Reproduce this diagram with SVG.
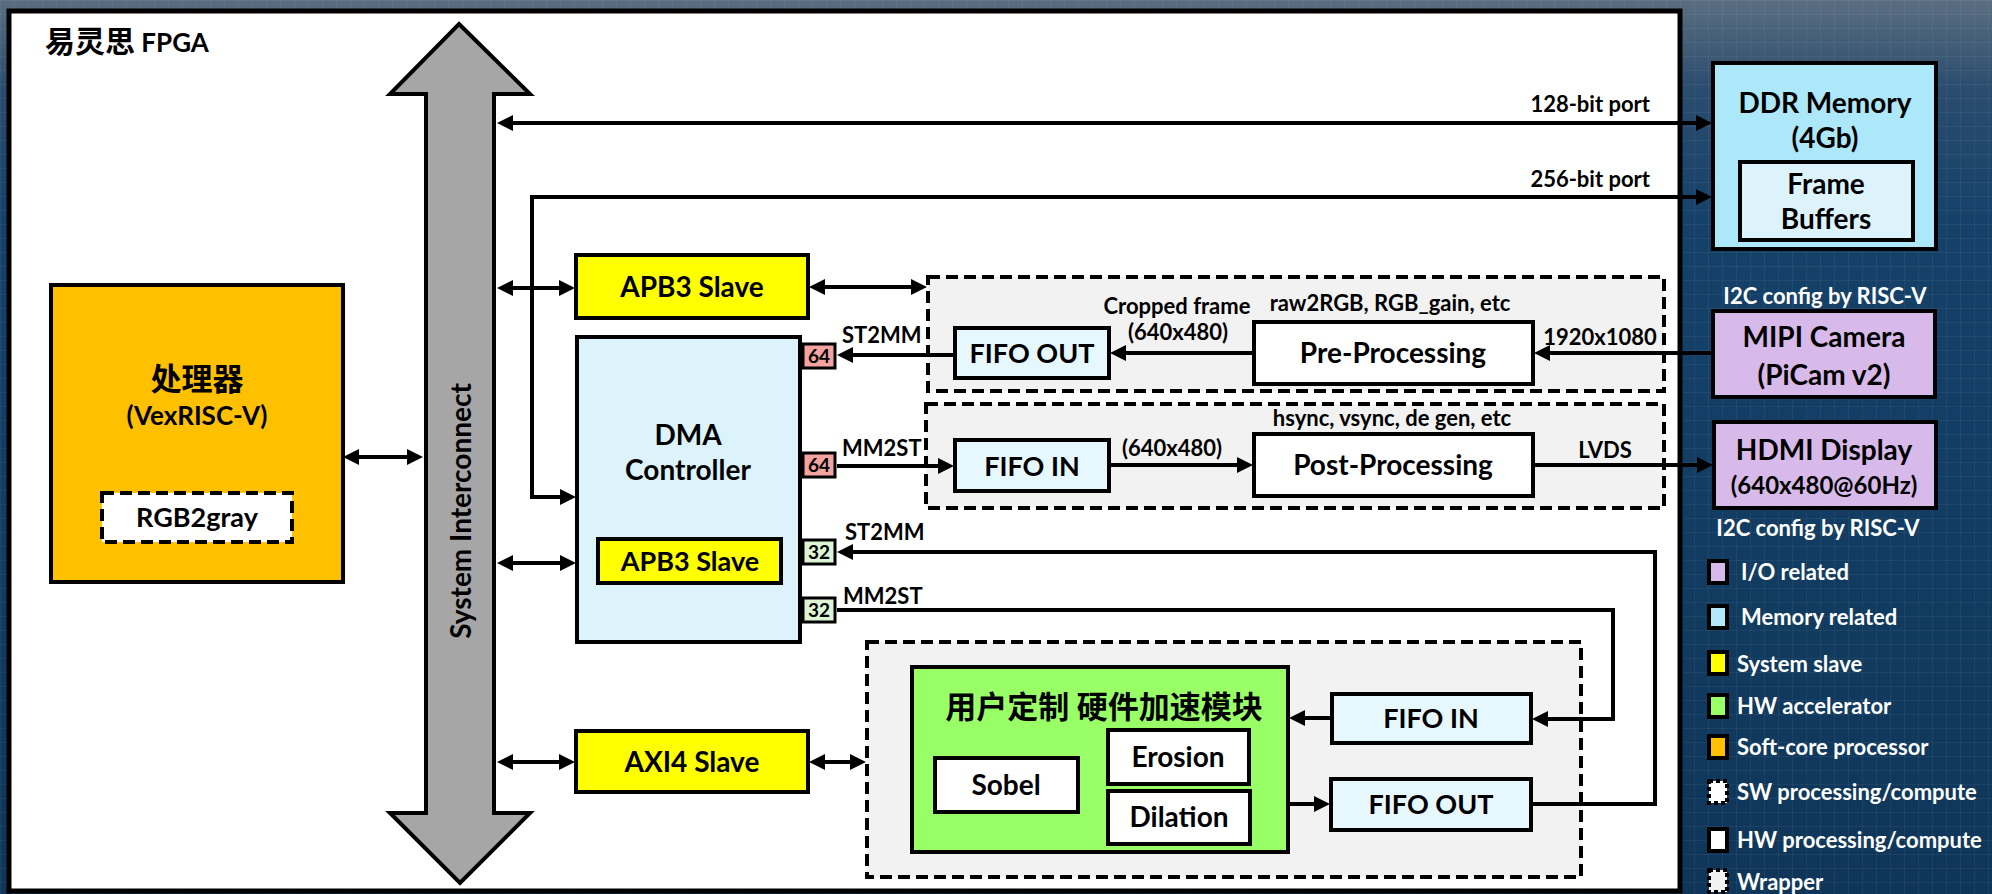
<svg xmlns="http://www.w3.org/2000/svg" width="1992" height="894" viewBox="0 0 1992 894">
<defs>
  <linearGradient id="bg" x1="0" y1="0" x2="0" y2="1">
    <stop offset="0" stop-color="#5a6e80"/>
    <stop offset="0.1" stop-color="#2a4c6e"/>
    <stop offset="0.25" stop-color="#154169"/>
    <stop offset="1" stop-color="#0f3659"/>
  </linearGradient>
  <pattern id="grid" width="14" height="14" patternUnits="userSpaceOnUse">
    <path d="M0,0.5 H14 M0.5,0 V14" stroke="#ffffff" stroke-opacity="0.05" stroke-width="1" fill="none"/>
  </pattern>
  <marker id="ah" markerUnits="userSpaceOnUse" markerWidth="16" markerHeight="16" refX="11" refY="8" orient="auto-start-reverse" viewBox="0 0 16 16">
    <path d="M0,0 L16,8 L0,16 Z" fill="#000"/>
  </marker>
  <style>
    .t { font-family: Lato, "Noto Sans CJK SC", sans-serif; font-weight: 700; fill: #000; }
    .c { text-anchor: middle; }
    .e { text-anchor: end; }
    .w { fill: #ffffff; }
    .s19 { font-size: 19px; }
    .s22 { font-size: 22px; }
    .s24 { font-size: 24px; }
    .s26 { font-size: 26px; }
    .s27 { font-size: 27px; }
    .s28 { font-size: 28px; }
    .s30 { font-size: 30px; }
    .s31 { font-size: 31px; }
    .box { stroke: #000; stroke-width: 4; }
    .dash { stroke: #000; stroke-width: 4; stroke-dasharray: 12 6; }
    .yel { fill: #ffff00; }
    .org { fill: #ffc000; }
    .lb { fill: #ddf3fc; }
    .fifo { fill: #e6f7fd; }
    .ddr { fill: #ade8fa; }
    .pur { fill: #d7b9ea; }
    .grn { fill: #99ff66; }
    .wht { fill: #ffffff; }
    .gry { fill: #f2f2f2; }
    .red { fill: #f4a3a0; stroke: #000; stroke-width: 3; }
    .lg { fill: #ddf5d5; stroke: #000; stroke-width: 3; }
    .ln { fill: none; stroke: #000; stroke-width: 4; }
    .arr { marker-end: url(#ah); }
    .arr2 { marker-start: url(#ah); marker-end: url(#ah); }
    .lgd { stroke: #000; stroke-width: 4; }
  </style>
</defs>

<g id="background">
  <rect x="0" y="0" width="1992" height="894" fill="url(#bg)"/>
  <rect x="0" y="0" width="1992" height="894" fill="url(#grid)"/>
</g>

<g id="fpga">
  <rect x="9" y="11" width="1671" height="880" fill="#ffffff" stroke="#000" stroke-width="5"/>
  <text class="t s26" x="45" y="52"><tspan class="s30">易灵思</tspan> FPGA</text>
</g>

<g id="system-interconnect">
  <path d="M459,24 L530,94 L494,94 L494,813 L530,813 L460,883 L390,813 L426,813 L426,94 L390,94 Z" fill="#a6a6a6" stroke="#000" stroke-width="4" stroke-linejoin="miter"/>
  <text class="t s28 c" transform="translate(461,511) rotate(-90)" x="0" y="10">System Interconnect</text>
</g>

<g id="processor">
  <rect class="box org" x="51" y="285" width="292" height="297"/>
  <text class="t s31 c" x="197" y="390">处理器</text>
  <text class="t s26 c" x="197" y="425">(VexRISC-V)</text>
</g>

<g id="rgb2gray">
  <rect class="dash wht" x="102" y="493" width="190" height="49"/>
  <text class="t s27 c" x="197" y="527">RGB2gray</text>
</g>

<g id="apb3-slave-top">
  <rect class="box yel" x="576" y="255" width="232" height="63"/>
  <text class="t s28 c" x="692" y="297">APB3 Slave</text>
</g>

<g id="dma-controller">
  <rect class="box lb" x="577" y="337" width="223" height="305"/>
  <text class="t s28 c" x="688" y="445">DMA</text>
  <text class="t s28 c" x="688" y="480">Controller</text>
</g>

<g id="apb3-slave-dma">
  <rect class="box yel" x="598" y="539" width="183" height="44"/>
  <text class="t s27 c" x="690" y="571">APB3 Slave</text>
</g>

<g id="port-64-st2mm">
  <rect class="red" x="803" y="344" width="32" height="24"/>
  <text class="t s19 c" x="819" y="363">64</text>
</g>
<g id="port-64-mm2st">
  <rect class="red" x="803" y="453" width="32" height="24"/>
  <text class="t s19 c" x="819" y="472">64</text>
</g>
<g id="port-32-st2mm">
  <rect class="lg" x="803" y="540" width="32" height="24"/>
  <text class="t s19 c" x="819" y="559">32</text>
</g>
<g id="port-32-mm2st">
  <rect class="lg" x="803" y="598" width="32" height="24"/>
  <text class="t s19 c" x="819" y="617">32</text>
</g>

<g id="axi4-slave">
  <rect class="box yel" x="576" y="731" width="232" height="61"/>
  <text class="t s28 c" x="692" y="772">AXI4 Slave</text>
</g>

<g id="wrapper-pre">
  <rect class="dash gry" x="928" y="277" width="736" height="114"/>
</g>
<g id="wrapper-post">
  <rect class="dash gry" x="926" y="404" width="738" height="104"/>
</g>

<g id="fifo-out-top">
  <rect class="box fifo" x="955" y="328" width="154" height="50"/>
  <text class="t s27 c" x="1032" y="363">FIFO OUT</text>
</g>
<g id="pre-processing">
  <rect class="box wht" x="1254" y="322" width="279" height="62"/>
  <text class="t s28 c" x="1393" y="363">Pre-Processing</text>
</g>
<g id="fifo-in-top">
  <rect class="box fifo" x="955" y="440" width="154" height="51"/>
  <text class="t s27 c" x="1032" y="476">FIFO IN</text>
</g>
<g id="post-processing">
  <rect class="box wht" x="1254" y="434" width="279" height="62"/>
  <text class="t s28 c" x="1393" y="475">Post-Processing</text>
</g>

<g id="wrapper-accel">
  <rect class="dash gry" x="867" y="642" width="714" height="235"/>
</g>
<g id="hw-accelerator">
  <rect class="box grn" x="912" y="667" width="376" height="185"/>
  <text class="t s31 c" x="1104" y="718">用户定制 硬件加速模块</text>
</g>
<g id="sobel">
  <rect class="box wht" x="935" y="758" width="143" height="54"/>
  <text class="t s28 c" x="1006" y="795">Sobel</text>
</g>
<g id="erosion">
  <rect class="box wht" x="1108" y="730" width="141" height="54"/>
  <text class="t s28 c" x="1178" y="767">Erosion</text>
</g>
<g id="dilation">
  <rect class="box wht" x="1108" y="791" width="142" height="53"/>
  <text class="t s28 c" x="1179" y="827">Dilation</text>
</g>
<g id="fifo-in-accel">
  <rect class="box fifo" x="1332" y="694" width="199" height="49"/>
  <text class="t s27 c" x="1431" y="728">FIFO IN</text>
</g>
<g id="fifo-out-accel">
  <rect class="box fifo" x="1331" y="779" width="200" height="51"/>
  <text class="t s27 c" x="1431" y="814">FIFO OUT</text>
</g>

<g id="ddr-memory">
  <rect class="box ddr" x="1713" y="63" width="223" height="186"/>
  <text class="t s28 c" x="1825" y="113">DDR Memory</text>
  <text class="t s28 c" x="1825" y="148">(4Gb)</text>
</g>
<g id="frame-buffers">
  <rect class="box lb" x="1740" y="162" width="173" height="78"/>
  <text class="t s28 c" x="1826" y="194">Frame</text>
  <text class="t s28 c" x="1826" y="229">Buffers</text>
</g>
<g id="mipi-camera">
  <text class="t s22 c w" x="1825" y="304">I2C config by RISC-V</text>
  <rect class="box pur" x="1713" y="311" width="222" height="86"/>
  <text class="t s28 c" x="1824" y="347">MIPI Camera</text>
  <text class="t s28 c" x="1824" y="385">(PiCam v2)</text>
</g>
<g id="hdmi-display">
  <rect class="box pur" x="1714" y="422" width="222" height="86"/>
  <text class="t s28 c" x="1824" y="460">HDMI Display</text>
  <text class="t s24 c" x="1824" y="494">(640x480@60Hz)</text>
  <text class="t s22 c w" x="1818" y="536">I2C config by RISC-V</text>
</g>

<g id="legend">
  <rect class="lgd" x="1709" y="561" width="18" height="22" fill="#d7b9ea"/>
  <text class="t s22 w" x="1741" y="580">I/O related</text>
  <rect class="lgd" x="1709" y="606" width="18" height="22" fill="#b3e8fa"/>
  <text class="t s22 w" x="1741" y="625">Memory related</text>
  <rect class="lgd" x="1709" y="652" width="18" height="22" fill="#ffff00"/>
  <text class="t s22 w" x="1737" y="672">System slave</text>
  <rect class="lgd" x="1709" y="695" width="18" height="22" fill="#99ff66"/>
  <text class="t s22 w" x="1737" y="714">HW accelerator</text>
  <rect class="lgd" x="1709" y="736" width="18" height="22" fill="#ffc000"/>
  <text class="t s22 w" x="1737" y="755">Soft-core processor</text>
  <rect class="lgd" x="1709" y="781" width="18" height="22" fill="#ffffff" stroke-dasharray="4 3"/>
  <text class="t s22 w" x="1737" y="800">SW processing/compute</text>
  <rect class="lgd" x="1709" y="829" width="18" height="22" fill="#ffffff"/>
  <text class="t s22 w" x="1737" y="848">HW processing/compute</text>
  <rect class="lgd" x="1709" y="870" width="18" height="22" fill="#f2f2f2" stroke-dasharray="4 3"/>
  <text class="t s22 w" x="1737" y="890">Wrapper</text>
</g>

<g id="connectors">
  <line class="ln arr2" x1="348" y1="457" x2="418" y2="457"/>
  <line class="ln arr2" x1="502" y1="123" x2="1707" y2="123"/>
  <polyline class="ln arr2" points="1707,197 532,197 532,497 571,497"/>
  <line class="ln arr2" x1="502" y1="288" x2="570" y2="288"/>
  <line class="ln arr2" x1="814" y1="287" x2="922" y2="287"/>
  <line class="ln arr2" x1="502" y1="563" x2="571" y2="563"/>
  <line class="ln arr2" x1="502" y1="762" x2="570" y2="762"/>
  <line class="ln arr2" x1="814" y1="762" x2="861" y2="762"/>
  <line class="ln arr" x1="955" y1="355" x2="842" y2="355"/>
  <line class="ln arr" x1="837" y1="466" x2="949" y2="466"/>
  <line class="ln arr" x1="1254" y1="353" x2="1115" y2="353"/>
  <line class="ln arr" x1="1713" y1="353" x2="1539" y2="353"/>
  <line class="ln arr" x1="1109" y1="465" x2="1248" y2="465"/>
  <line class="ln arr" x1="1533" y1="465" x2="1708" y2="465"/>
  <polyline class="ln arr" points="1531,804 1655,804 1655,552 842,552"/>
  <polyline class="ln arr" points="837,610 1613,610 1613,719 1537,719"/>
  <line class="ln arr" x1="1332" y1="718" x2="1294" y2="718"/>
  <line class="ln arr" x1="1288" y1="804" x2="1325" y2="804"/>
</g>

<g id="labels">
  <text class="t s22 e" x="1650" y="112">128-bit port</text>
  <text class="t s22 e" x="1650" y="187">256-bit port</text>
  <text class="t s22" x="842" y="343">ST2MM</text>
  <text class="t s22" x="842" y="456">MM2ST</text>
  <text class="t s22" x="845" y="540">ST2MM</text>
  <text class="t s22" x="843" y="604">MM2ST</text>
  <text class="t s22 c" x="1177" y="314">Cropped frame</text>
  <text class="t s22 c" x="1178" y="340">(640x480)</text>
  <text class="t s22 c" x="1390" y="311">raw2RGB, RGB_gain, etc</text>
  <text class="t s22 c" x="1600" y="345">1920x1080</text>
  <text class="t s22 c" x="1392" y="426">hsync, vsync, de gen, etc</text>
  <text class="t s22 c" x="1172" y="456">(640x480)</text>
  <text class="t s22 c" x="1605" y="458">LVDS</text>
</g>
</svg>
